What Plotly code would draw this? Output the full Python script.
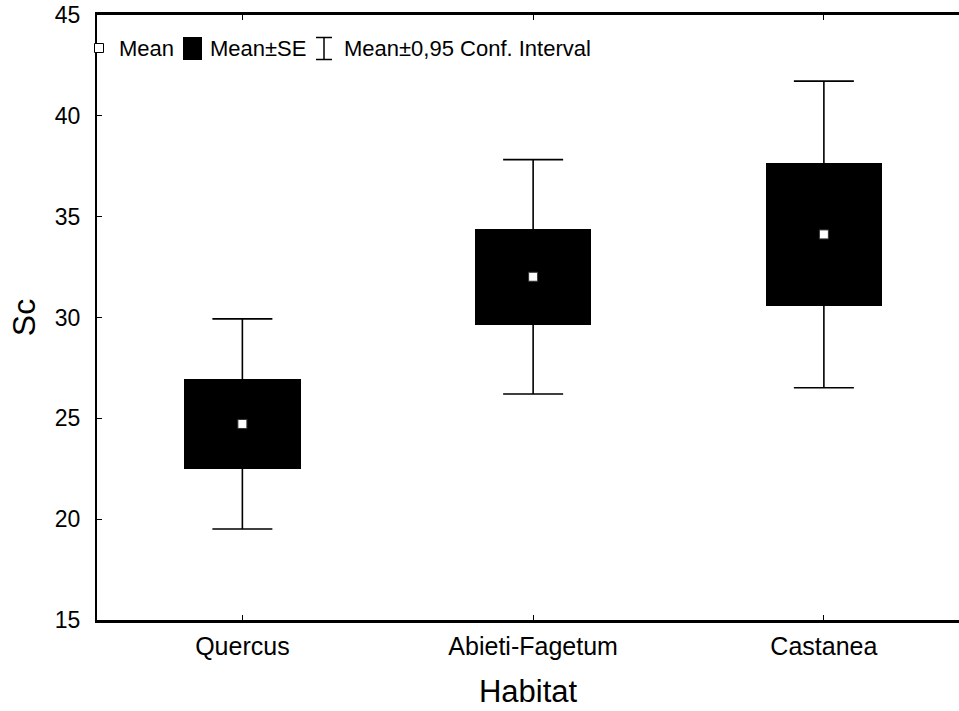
import plotly.graph_objects as go

# Habitat groups and summary statistics of Sc
habitats = ["Quercus", "Abieti-Fagetum", "Castanea"]
means = [24.72, 32.02, 34.12]
se = [2.22, 2.38, 3.53]
ci95 = [5.21, 5.81, 7.60]
y_ticks = [15, 20, 25, 30, 35, 40, 45]

FONT = "Liberation Sans, Arial, sans-serif"
W, H = 959, 711
ML, MR, MT, MB = 97, 0, 15, 91

xpos = list(range(len(habitats)))

fig = go.Figure()

# Mean ± SE boxes
fig.add_trace(go.Bar(
    x=xpos,
    y=[2 * s for s in se],
    base=[m - s for m, s in zip(means, se)],
    width=0.40,
    marker=dict(color="black", line=dict(width=0)),
    showlegend=False,
    hoverinfo="skip",
))

# Means with 0.95 confidence interval whiskers
fig.add_trace(go.Scatter(
    x=xpos,
    y=means,
    mode="markers",
    marker=dict(symbol="square", size=9, color="white",
                line=dict(color="#333333", width=1)),
    error_y=dict(type="data", array=ci95, visible=True,
                 color="black", thickness=1.6, width=30),
    showlegend=False,
    hoverinfo="skip",
))

# Legend row drawn in plot-area coordinates
def px_x(px):
    return (px - ML) / (W - ML - MR)

def px_y(py):
    return (H - MB - py) / (H - MT - MB)

leg_y = 48
shapes = [
    # mean marker sample
    dict(type="rect", xref="paper", yref="paper",
         x0=px_x(94.5), x1=px_x(103.5), y0=px_y(leg_y - 4.5), y1=px_y(leg_y + 4.5),
         fillcolor="white", line=dict(color="black", width=1)),
    # SE box sample
    dict(type="rect", xref="paper", yref="paper",
         x0=px_x(183), x1=px_x(202), y0=px_y(37), y1=px_y(60),
         fillcolor="black", line=dict(width=0)),
    # CI whisker sample
    dict(type="line", xref="paper", yref="paper",
         x0=px_x(324), x1=px_x(324), y0=px_y(37.5), y1=px_y(59.5),
         line=dict(color="black", width=1.5)),
    dict(type="line", xref="paper", yref="paper",
         x0=px_x(316), x1=px_x(332), y0=px_y(37.5), y1=px_y(37.5),
         line=dict(color="black", width=1.5)),
    dict(type="line", xref="paper", yref="paper",
         x0=px_x(316), x1=px_x(332), y0=px_y(59.5), y1=px_y(59.5),
         line=dict(color="black", width=1.5)),
]

legend_texts = [(117, "Mean"), (208, "Mean±SE"), (342, "Mean±0,95 Conf. Interval")]
annotations = [
    dict(text=t, xref="paper", yref="paper", x=px_x(x0), y=px_y(leg_y),
         xanchor="left", yanchor="middle", showarrow=False,
         font=dict(family=FONT, size=22, color="black"))
    for x0, t in legend_texts
]

fig.update_layout(
    width=W, height=H,
    margin=dict(l=ML, r=MR, t=MT, b=MB, pad=0),
    paper_bgcolor="white",
    plot_bgcolor="white",
    font=dict(family=FONT, color="black"),
    shapes=shapes,
    annotations=annotations,
    bargap=0,
)

fig.update_xaxes(
    range=[-0.5, -0.5 + (W - ML - MR) / 290.75],
    tickmode="array", tickvals=xpos, ticktext=habitats,
    tickfont=dict(size=25, family=FONT),
    ticks="inside", ticklen=5, tickwidth=1, tickcolor="black",
    showline=True, linecolor="black", linewidth=2.5,
    mirror="ticks", showgrid=False, zeroline=False,
    ticklabelstandoff=2,
    title=dict(text="Habitat", font=dict(size=31, family=FONT), standoff=22),
)
fig.update_yaxes(
    range=[15, 45],
    tickmode="array", tickvals=y_ticks,
    tickfont=dict(size=23, family=FONT),
    ticks="inside", ticklen=5, tickwidth=1, tickcolor="black",
    showline=True, linecolor="black", linewidth=2,
    mirror=False, showgrid=False, zeroline=False,
    ticklabelstandoff=10,
    title=dict(text="Sc", font=dict(size=32, family=FONT), standoff=10),
)

fig.write_html("out.html")
